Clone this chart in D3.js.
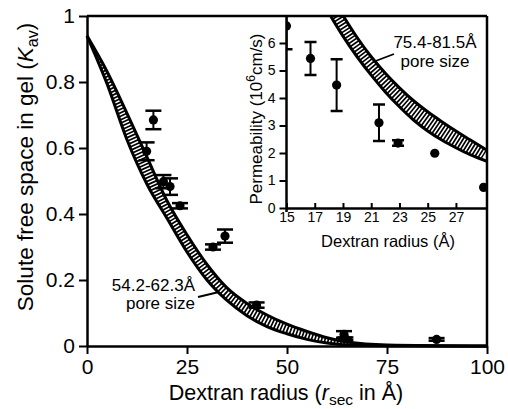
<!DOCTYPE html>
<html><head><meta charset="utf-8">
<script src="https://cdn.jsdelivr.net/npm/d3@7"></script>
<style>
body{margin:0;background:#fff}
svg{display:block}
text{font-family:"Liberation Sans",Arial,Helvetica,sans-serif;fill:#000}
</style>
</head><body>
<svg id="c" width="508" height="409"></svg>
<script>
// ---------- data ----------
// main plot: measured Kav vs dextran radius
const mainRadius = [14.9, 16.6, 19.1, 20.75, 23.25, 31.5, 34.5, 42.4, 64.25, 64.6, 87.4];
const mainKav    = [0.59, 0.685, 0.498, 0.483, 0.425, 0.30, 0.333, 0.124, 0.035, 0.022, 0.02];
const mainErr    = [0.027, 0.028, 0.02, 0.025, 0.008, 0.008, 0.02, 0.008, 0.01, 0.004, 0.004];
// model band (54.2 and 62.3 Å pore size)
const bandR      = [0, 5, 10, 15, 20, 25, 30, 35, 40, 45, 50, 55, 60, 65, 75, 100];
const bandLowKav = [0.94, 0.795, 0.625, 0.49, 0.387, 0.285, 0.2, 0.138, 0.092, 0.059, 0.037, 0.02, 0.009, 0.003, 0.001, 0];
const bandHighKav= [0.94, 0.832, 0.705, 0.572, 0.44, 0.337, 0.247, 0.176, 0.129, 0.094, 0.066, 0.044, 0.025, 0.012, 0.003, 0];
const mainXTicks = [0, 25, 50, 75, 100];
const mainYTicks = [0, 0.2, 0.4, 0.6, 0.8, 1];

// inset: permeability vs dextran radius
const insetRadius = [15.0, 16.7, 18.55, 21.55, 22.9, 25.5, 28.96];
const insetPerm   = [6.62, 5.44, 4.47, 3.10, 2.36, 1.99, 0.75];
const insetErr    = [0.85, 0.6, 0.94, 0.66, 0.1, 0, 0];
const insetLowR   = [17.5, 18, 19, 20, 21, 22, 23, 24, 25, 26, 27, 28, 29.2];
const insetLowP   = [7.6, 7.1, 6.25, 5.5, 4.83, 4.22, 3.68, 3.2, 2.8, 2.47, 2.19, 1.94, 1.7];
const insetHighR  = [18.3, 19, 20, 21, 22, 23, 24, 25, 26, 27, 28, 29.2];
const insetHighP  = [7.6, 7.0, 6.2, 5.5, 4.9, 4.37, 3.9, 3.5, 3.14, 2.8, 2.48, 2.1];
const insetXTicks = [15, 17, 19, 21, 23, 25, 27];
const insetYTicks = [0, 1, 2, 3, 4, 5, 6];

// ---------- drawing ----------
const svg = d3.select("#c");
const x = d3.scaleLinear().domain([0, 100]).range([87, 487]);
const y = d3.scaleLinear().domain([0, 1]).range([346, 16]);
const xi = d3.scaleLinear().domain([15, 29.2]).range([286.5, 487]);
const yi = d3.scaleLinear().domain([0, 7]).range([208, 15.5]);
const defs = svg.append("defs");

function styleAxis(g, fs) {
  g.select(".domain").attr("stroke", "#000").attr("stroke-width", 2.5);
  g.selectAll(".tick line").attr("stroke", "#000").attr("stroke-width", 2);
  g.selectAll(".tick text").attr("font-size", fs).attr("fill", "#000")
    .style("font-family", '"Liberation Sans",Arial,sans-serif');
}

function drawBand(g, xs, ys, lowR, lowV, highR, highV, id, dash) {
  const line = d3.line().x(d => xs(d[0])).y(d => ys(d[1])).curve(d3.curveMonotoneX);
  const low = d3.zip(lowR, lowV), high = d3.zip(highR, highV);
  const poly = line(high) + "L" + line(low.slice().reverse()).slice(1) + "Z";
  defs.append("clipPath").attr("id", id).append("path").attr("d", poly);
  g.append("path").attr("d", line(high)).attr("fill", "none").attr("stroke", "#000")
    .attr("stroke-width", 44).attr("stroke-dasharray", dash).attr("clip-path", `url(#${id})`);
  [low, high].forEach(p => g.append("path").attr("d", line(p)).attr("fill", "none")
    .attr("stroke", "#000").attr("stroke-width", 3));
}

function drawPoints(g, xs, ys, rs, vs, es, cap) {
  rs.forEach((r, i) => {
    const cx = xs(r), e = es[i];
    if (e > 0) {
      g.append("line").attr("x1", cx).attr("x2", cx).attr("y1", ys(vs[i] - e)).attr("y2", ys(vs[i] + e))
        .attr("stroke", "#000").attr("stroke-width", 2);
      [vs[i] - e, vs[i] + e].forEach(v => g.append("line").attr("x1", cx - cap / 2).attr("x2", cx + cap / 2)
        .attr("y1", ys(v)).attr("y2", ys(v)).attr("stroke", "#000").attr("stroke-width", 2.5));
    }
    g.append("circle").attr("cx", cx).attr("cy", ys(vs[i])).attr("r", 4.6).attr("fill", "#000");
  });
}

// main band
const gMain = svg.append("g");
drawBand(gMain, x, y, bandR, bandLowKav, bandR, bandHighKav, "clipMain", "1.7 1.5");

// main axes
const gx = svg.append("g").attr("transform", "translate(0,346)")
  .call(d3.axisBottom(x).tickValues(mainXTicks).tickSize(8).tickSizeOuter(0).tickPadding(5).tickFormat(d => d));
styleAxis(gx, 21);
const gy = svg.append("g").attr("transform", "translate(87,0)")
  .call(d3.axisLeft(y).tickValues(mainYTicks).tickSize(8).tickSizeOuter(0).tickPadding(4)
    .tickFormat(d => (d === 0 || d === 1) ? d : d.toFixed(1)));
styleAxis(gy, 21);
// frame
svg.append("line").attr("x1", x(0)).attr("x2", x(100)).attr("y1", y(1)).attr("y2", y(1)).attr("stroke", "#000").attr("stroke-width", 2.5);
svg.append("line").attr("x1", x(100)).attr("x2", x(100)).attr("y1", y(1)).attr("y2", y(0)).attr("stroke", "#000").attr("stroke-width", 2.5);

// main points
drawPoints(svg.append("g"), x, y, mainRadius, mainKav, mainErr, 16);

// main annotation
svg.append("text").attr("x", 195).attr("y", 291).attr("text-anchor", "end").attr("font-size", 17).text("54.2-62.3Å");
svg.append("text").attr("x", 195).attr("y", 309).attr("text-anchor", "end").attr("font-size", 17).text("pore size");
svg.append("line").attr("x1", 198).attr("y1", 297).attr("x2", 219).attr("y2", 292).attr("stroke", "#000").attr("stroke-width", 1.8);

// main titles
const tx = svg.append("text").attr("x", 286).attr("y", 400).attr("text-anchor", "middle").attr("font-size", 21.5);
tx.append("tspan").text("Dextran radius (");
tx.append("tspan").attr("font-style", "italic").text("r");
tx.append("tspan").attr("font-size", 15.5).attr("dy", 5).text("sec");
tx.append("tspan").attr("dy", -5).text(" in Å)");

const ty = svg.append("text").attr("transform", "translate(33,167) rotate(-90)").attr("text-anchor", "middle").attr("font-size", 22.5);
ty.append("tspan").text("Solute free space in gel (");
ty.append("tspan").attr("font-style", "italic").text("K");
ty.append("tspan").attr("font-size", 16).attr("dy", 5).text("av");
ty.append("tspan").attr("dy", -5).text(")");

// ---------- inset ----------
defs.append("clipPath").attr("id", "clipInset").append("rect")
  .attr("x", 286.5).attr("y", 16).attr("width", 200.5).attr("height", 192);
const gIn = svg.append("g").attr("clip-path", "url(#clipInset)");
drawBand(gIn.append("g"), xi, yi, insetLowR, insetLowP, insetHighR, insetHighP, "clipIn", "1.7 1.5");

const gxi = svg.append("g").attr("transform", "translate(0,208)")
  .call(d3.axisBottom(xi).tickValues(insetXTicks).tickSize(-5).tickSizeOuter(0).tickPadding(4).tickFormat(d => d));
styleAxis(gxi, 14);
gxi.selectAll(".tick text").attr("y", 4);
const gyi = svg.append("g").attr("transform", "translate(286.5,0)")
  .call(d3.axisLeft(yi).tickValues(insetYTicks).tickSize(7).tickSizeOuter(0).tickPadding(4).tickFormat(d => d));
styleAxis(gyi, 14);
gyi.select(".domain").attr("d", `M0,16V212`);

drawPoints(gIn.append("g"), xi, yi, insetRadius, insetPerm, insetErr, 12);

svg.append("text").attr("x", 435).attr("y", 48).attr("text-anchor", "middle").attr("font-size", 17).text("75.4-81.5Å");
svg.append("text").attr("x", 435).attr("y", 67).attr("text-anchor", "middle").attr("font-size", 17).text("pore size");
svg.append("line").attr("x1", 373).attr("y1", 62).attr("x2", 394).attr("y2", 54).attr("stroke", "#000").attr("stroke-width", 1.8);

svg.append("text").attr("x", 388).attr("y", 247).attr("text-anchor", "middle").attr("font-size", 16.5).text("Dextran radius (Å)");
const tyi = svg.append("text").attr("transform", "translate(262,119) rotate(-90)").attr("text-anchor", "middle").attr("font-size", 17);
tyi.append("tspan").text("Permeability (10");
tyi.append("tspan").attr("font-size", 12).attr("dy", -7).text("6");
tyi.append("tspan").attr("dy", 7).text("cm/s)");
</script>
</body></html>
